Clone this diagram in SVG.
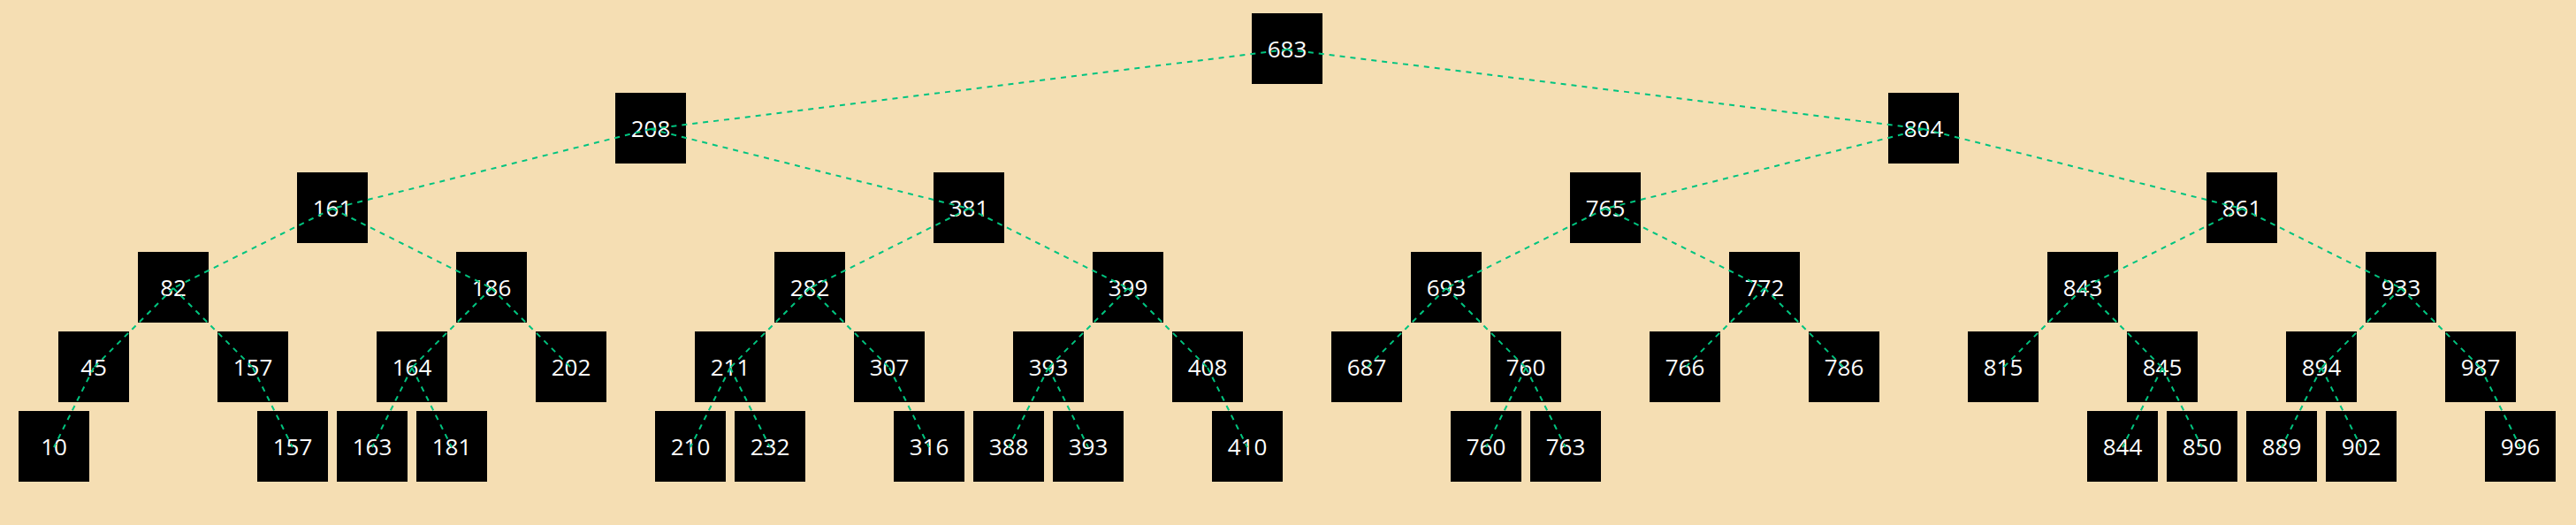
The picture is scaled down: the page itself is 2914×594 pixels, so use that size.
<svg xmlns="http://www.w3.org/2000/svg" width="2914" height="594" viewBox="0 0 2914 594">
<style>
.box{fill:#000}
.lbl{fill:#fff;font-family:"Open Sans","Liberation Sans",Arial,sans-serif;font-size:26px;text-anchor:middle}
.edge{stroke:#00c47f;stroke-width:2;stroke-dasharray:6 6;fill:none}
</style>
<rect width="2914" height="594" fill="#f5deb3"/>
<g id="nodes">
<g id="n0-683"><rect class="box" x="1416" y="15" width="80" height="80"/><text class="lbl" x="1456" y="65">683</text></g>
<g id="n1-208"><rect class="box" x="696" y="105" width="80" height="80"/><text class="lbl" x="736" y="155">208</text></g>
<g id="n1-804"><rect class="box" x="2136" y="105" width="80" height="80"/><text class="lbl" x="2176" y="155">804</text></g>
<g id="n2-161"><rect class="box" x="336" y="195" width="80" height="80"/><text class="lbl" x="376" y="245">161</text></g>
<g id="n2-381"><rect class="box" x="1056" y="195" width="80" height="80"/><text class="lbl" x="1096" y="245">381</text></g>
<g id="n2-765"><rect class="box" x="1776" y="195" width="80" height="80"/><text class="lbl" x="1816" y="245">765</text></g>
<g id="n2-861"><rect class="box" x="2496" y="195" width="80" height="80"/><text class="lbl" x="2536" y="245">861</text></g>
<g id="n3-82"><rect class="box" x="156" y="285" width="80" height="80"/><text class="lbl" x="196" y="335">82</text></g>
<g id="n3-186"><rect class="box" x="516" y="285" width="80" height="80"/><text class="lbl" x="556" y="335">186</text></g>
<g id="n3-282"><rect class="box" x="876" y="285" width="80" height="80"/><text class="lbl" x="916" y="335">282</text></g>
<g id="n3-399"><rect class="box" x="1236" y="285" width="80" height="80"/><text class="lbl" x="1276" y="335">399</text></g>
<g id="n3-693"><rect class="box" x="1596" y="285" width="80" height="80"/><text class="lbl" x="1636" y="335">693</text></g>
<g id="n3-772"><rect class="box" x="1956" y="285" width="80" height="80"/><text class="lbl" x="1996" y="335">772</text></g>
<g id="n3-843"><rect class="box" x="2316" y="285" width="80" height="80"/><text class="lbl" x="2356" y="335">843</text></g>
<g id="n3-933"><rect class="box" x="2676" y="285" width="80" height="80"/><text class="lbl" x="2716" y="335">933</text></g>
<g id="n4-45"><rect class="box" x="66" y="375" width="80" height="80"/><text class="lbl" x="106" y="425">45</text></g>
<g id="n4-157"><rect class="box" x="246" y="375" width="80" height="80"/><text class="lbl" x="286" y="425">157</text></g>
<g id="n4-164"><rect class="box" x="426" y="375" width="80" height="80"/><text class="lbl" x="466" y="425">164</text></g>
<g id="n4-202"><rect class="box" x="606" y="375" width="80" height="80"/><text class="lbl" x="646" y="425">202</text></g>
<g id="n4-211"><rect class="box" x="786" y="375" width="80" height="80"/><text class="lbl" x="826" y="425">211</text></g>
<g id="n4-307"><rect class="box" x="966" y="375" width="80" height="80"/><text class="lbl" x="1006" y="425">307</text></g>
<g id="n4-393"><rect class="box" x="1146" y="375" width="80" height="80"/><text class="lbl" x="1186" y="425">393</text></g>
<g id="n4-408"><rect class="box" x="1326" y="375" width="80" height="80"/><text class="lbl" x="1366" y="425">408</text></g>
<g id="n4-687"><rect class="box" x="1506" y="375" width="80" height="80"/><text class="lbl" x="1546" y="425">687</text></g>
<g id="n4-760"><rect class="box" x="1686" y="375" width="80" height="80"/><text class="lbl" x="1726" y="425">760</text></g>
<g id="n4-766"><rect class="box" x="1866" y="375" width="80" height="80"/><text class="lbl" x="1906" y="425">766</text></g>
<g id="n4-786"><rect class="box" x="2046" y="375" width="80" height="80"/><text class="lbl" x="2086" y="425">786</text></g>
<g id="n4-815"><rect class="box" x="2226" y="375" width="80" height="80"/><text class="lbl" x="2266" y="425">815</text></g>
<g id="n4-845"><rect class="box" x="2406" y="375" width="80" height="80"/><text class="lbl" x="2446" y="425">845</text></g>
<g id="n4-894"><rect class="box" x="2586" y="375" width="80" height="80"/><text class="lbl" x="2626" y="425">894</text></g>
<g id="n4-987"><rect class="box" x="2766" y="375" width="80" height="80"/><text class="lbl" x="2806" y="425">987</text></g>
<g id="n5-10"><rect class="box" x="21" y="465" width="80" height="80"/><text class="lbl" x="61" y="515">10</text></g>
<g id="n5-157"><rect class="box" x="291" y="465" width="80" height="80"/><text class="lbl" x="331" y="515">157</text></g>
<g id="n5-163"><rect class="box" x="381" y="465" width="80" height="80"/><text class="lbl" x="421" y="515">163</text></g>
<g id="n5-181"><rect class="box" x="471" y="465" width="80" height="80"/><text class="lbl" x="511" y="515">181</text></g>
<g id="n5-210"><rect class="box" x="741" y="465" width="80" height="80"/><text class="lbl" x="781" y="515">210</text></g>
<g id="n5-232"><rect class="box" x="831" y="465" width="80" height="80"/><text class="lbl" x="871" y="515">232</text></g>
<g id="n5-316"><rect class="box" x="1011" y="465" width="80" height="80"/><text class="lbl" x="1051" y="515">316</text></g>
<g id="n5-388"><rect class="box" x="1101" y="465" width="80" height="80"/><text class="lbl" x="1141" y="515">388</text></g>
<g id="n5-393"><rect class="box" x="1191" y="465" width="80" height="80"/><text class="lbl" x="1231" y="515">393</text></g>
<g id="n5-410"><rect class="box" x="1371" y="465" width="80" height="80"/><text class="lbl" x="1411" y="515">410</text></g>
<g id="n5-760"><rect class="box" x="1641" y="465" width="80" height="80"/><text class="lbl" x="1681" y="515">760</text></g>
<g id="n5-763"><rect class="box" x="1731" y="465" width="80" height="80"/><text class="lbl" x="1771" y="515">763</text></g>
<g id="n5-844"><rect class="box" x="2361" y="465" width="80" height="80"/><text class="lbl" x="2401" y="515">844</text></g>
<g id="n5-850"><rect class="box" x="2451" y="465" width="80" height="80"/><text class="lbl" x="2491" y="515">850</text></g>
<g id="n5-889"><rect class="box" x="2541" y="465" width="80" height="80"/><text class="lbl" x="2581" y="515">889</text></g>
<g id="n5-902"><rect class="box" x="2631" y="465" width="80" height="80"/><text class="lbl" x="2671" y="515">902</text></g>
<g id="n5-996"><rect class="box" x="2811" y="465" width="80" height="80"/><text class="lbl" x="2851" y="515">996</text></g>
</g>
<g id="connectors" class="edge">
<line x1="1456" y1="56" x2="736" y2="146"/>
<line x1="1456" y1="56" x2="2176" y2="146"/>
<line x1="736" y1="146" x2="376" y2="236"/>
<line x1="736" y1="146" x2="1096" y2="236"/>
<line x1="2176" y1="146" x2="1816" y2="236"/>
<line x1="2176" y1="146" x2="2536" y2="236"/>
<line x1="376" y1="236" x2="196" y2="326"/>
<line x1="376" y1="236" x2="556" y2="326"/>
<line x1="1096" y1="236" x2="916" y2="326"/>
<line x1="1096" y1="236" x2="1276" y2="326"/>
<line x1="1816" y1="236" x2="1636" y2="326"/>
<line x1="1816" y1="236" x2="1996" y2="326"/>
<line x1="2536" y1="236" x2="2356" y2="326"/>
<line x1="2536" y1="236" x2="2716" y2="326"/>
<line x1="196" y1="326" x2="106" y2="416"/>
<line x1="196" y1="326" x2="286" y2="416"/>
<line x1="556" y1="326" x2="466" y2="416"/>
<line x1="556" y1="326" x2="646" y2="416"/>
<line x1="916" y1="326" x2="826" y2="416"/>
<line x1="916" y1="326" x2="1006" y2="416"/>
<line x1="1276" y1="326" x2="1186" y2="416"/>
<line x1="1276" y1="326" x2="1366" y2="416"/>
<line x1="1636" y1="326" x2="1546" y2="416"/>
<line x1="1636" y1="326" x2="1726" y2="416"/>
<line x1="1996" y1="326" x2="1906" y2="416"/>
<line x1="1996" y1="326" x2="2086" y2="416"/>
<line x1="2356" y1="326" x2="2266" y2="416"/>
<line x1="2356" y1="326" x2="2446" y2="416"/>
<line x1="2716" y1="326" x2="2626" y2="416"/>
<line x1="2716" y1="326" x2="2806" y2="416"/>
<line x1="106" y1="416" x2="61" y2="506"/>
<line x1="286" y1="416" x2="331" y2="506"/>
<line x1="466" y1="416" x2="421" y2="506"/>
<line x1="466" y1="416" x2="511" y2="506"/>
<line x1="826" y1="416" x2="781" y2="506"/>
<line x1="826" y1="416" x2="871" y2="506"/>
<line x1="1006" y1="416" x2="1051" y2="506"/>
<line x1="1186" y1="416" x2="1141" y2="506"/>
<line x1="1186" y1="416" x2="1231" y2="506"/>
<line x1="1366" y1="416" x2="1411" y2="506"/>
<line x1="1726" y1="416" x2="1681" y2="506"/>
<line x1="1726" y1="416" x2="1771" y2="506"/>
<line x1="2446" y1="416" x2="2401" y2="506"/>
<line x1="2446" y1="416" x2="2491" y2="506"/>
<line x1="2626" y1="416" x2="2581" y2="506"/>
<line x1="2626" y1="416" x2="2671" y2="506"/>
<line x1="2806" y1="416" x2="2851" y2="506"/>
</g>
</svg>
